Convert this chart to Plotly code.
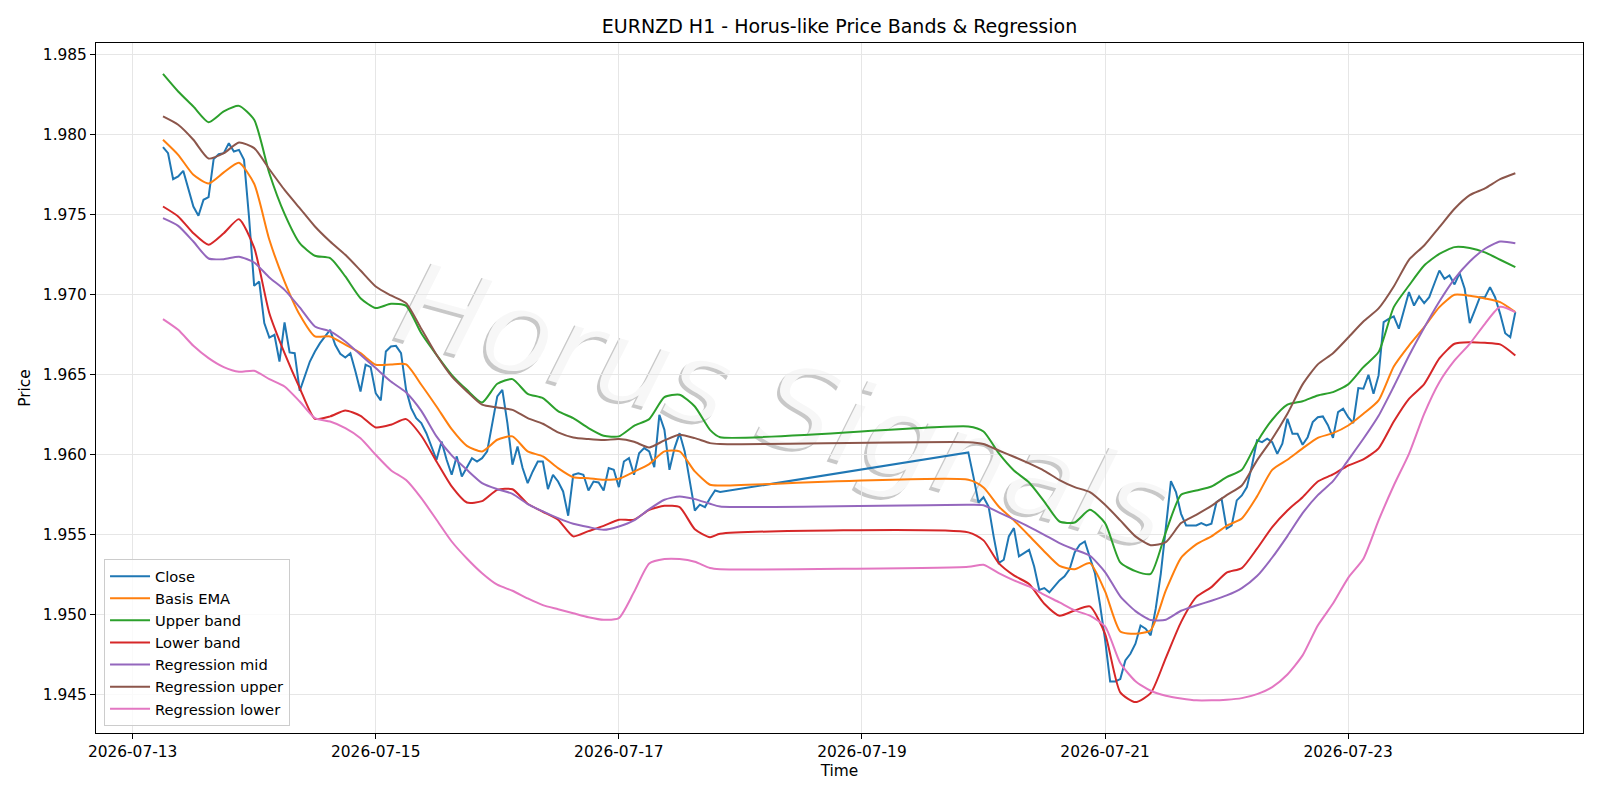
import pandas as pd
import plotly.graph_objects as go

# ---------------- data ----------------
base = pd.Timestamp("2026-07-13 00:00")
week1_hours = list(range(6, 117))       # Mon 06:00 .. Fri 20:00
week2_hours = list(range(165, 274))     # Sun 21:00 .. Fri 09:00
close_hours = week1_hours + week2_hours

close = [
    1.97923, 1.97885, 1.97723, 1.97740, 1.97775, 1.97667, 1.97552, 1.97494, 1.97594, 1.97610,
    1.97848, 1.97879, 1.97885, 1.97948, 1.97896, 1.97906, 1.97844, 1.97480, 1.97056, 1.97083,
    1.96823, 1.96733, 1.96750, 1.96583, 1.96827, 1.96640, 1.96635, 1.96400, 1.96490, 1.96583,
    1.96646, 1.96698, 1.96740, 1.96781, 1.96688, 1.96631, 1.96608, 1.96635, 1.96521, 1.96396,
    1.96563, 1.96548, 1.96385, 1.96340, 1.96646, 1.96677, 1.96681, 1.96635, 1.96406, 1.96292,
    1.96229, 1.96198, 1.96135, 1.96052, 1.95969, 1.96083, 1.95969, 1.95875, 1.95990, 1.95865,
    1.95927, 1.95979, 1.95958, 1.95979, 1.96021, 1.96198, 1.96365, 1.96406, 1.96198, 1.95938,
    1.96052, 1.95917, 1.95823, 1.95896, 1.95958, 1.95958, 1.95785, 1.95875, 1.95833, 1.95771,
    1.95619, 1.95875, 1.95885, 1.95875, 1.95777, 1.95833, 1.95827, 1.95777, 1.95917, 1.95906,
    1.95798, 1.95958, 1.95979, 1.95875, 1.96010, 1.96042, 1.96021, 1.95923, 1.96250, 1.96156,
    1.95906, 1.96042, 1.96135, 1.96021, 1.95844, 1.95652, 1.95688, 1.95673, 1.95729, 1.95777,
    1.95767,
    1.96015, 1.95865, 1.95702, 1.95735, 1.95677, 1.95490, 1.95323, 1.95344, 1.95490, 1.95542,
    1.95365, 1.95385, 1.95406, 1.95302, 1.95156, 1.95167, 1.95140, 1.95177, 1.95215, 1.95240,
    1.95285, 1.95390, 1.95438, 1.95458, 1.95365, 1.95260, 1.95063, 1.94844, 1.94583, 1.94583,
    1.94598, 1.94715, 1.94756, 1.94819, 1.94933, 1.94913, 1.94871, 1.95038, 1.95256, 1.95548,
    1.95835, 1.95767, 1.95631, 1.95558, 1.95558, 1.95558, 1.95573, 1.95558, 1.95569, 1.95704,
    1.95725, 1.95538, 1.95558, 1.95715, 1.95746, 1.95798, 1.95933, 1.96090, 1.96079, 1.96100,
    1.96079, 1.96006, 1.96069, 1.96225, 1.96131, 1.96131, 1.96063, 1.96110, 1.96204, 1.96235,
    1.96240, 1.96185, 1.96106, 1.96267, 1.96288, 1.96235, 1.96198, 1.96417, 1.96413, 1.96500,
    1.96381, 1.96496, 1.96829, 1.96850, 1.96865, 1.96788, 1.96902, 1.97017, 1.96933, 1.96990,
    1.96948, 1.96985, 1.97069, 1.97152, 1.97100, 1.97121, 1.97065, 1.97135, 1.97038, 1.96823,
    1.96902, 1.96985, 1.96985, 1.97048, 1.96985, 1.96881, 1.96760, 1.96735, 1.96892,
]

# smooth series sampled every 3 hours (plus the Friday close hour)
band_hours = list(range(6, 115, 3)) + [116] + list(range(165, 274, 3))

basis_ema = [
    1.97969, 1.97875, 1.97750, 1.97696, 1.97765, 1.97825, 1.97694, 1.97344, 1.97083, 1.96875,
    1.96740, 1.96740, 1.96688, 1.96635, 1.96563, 1.96565, 1.96565, 1.96438, 1.96302, 1.96160,
    1.96056, 1.96021, 1.96094, 1.96115, 1.96021, 1.95990, 1.95917, 1.95860, 1.95854, 1.95844,
    1.95850, 1.95894, 1.95942, 1.96021, 1.96021, 1.95896, 1.95813, 1.95808,
    1.95844, 1.95796, 1.95677, 1.95590, 1.95494, 1.95396, 1.95306, 1.95285, 1.95323, 1.95146,
    1.94896, 1.94881, 1.94904, 1.95152, 1.95356, 1.95440, 1.95490, 1.95556, 1.95602, 1.95740,
    1.95906, 1.95969, 1.96040, 1.96106, 1.96135, 1.96183, 1.96256, 1.96340, 1.96552, 1.96683,
    1.96798, 1.96923, 1.97000, 1.96994, 1.96977, 1.96954, 1.96892,
]
upper_band = [
    1.98381, 1.98271, 1.98177, 1.98079, 1.98146, 1.98181, 1.98094, 1.97760, 1.97506, 1.97323,
    1.97244, 1.97229, 1.97115, 1.96979, 1.96917, 1.96944, 1.96931, 1.96760, 1.96625, 1.96500,
    1.96406, 1.96327, 1.96444, 1.96473, 1.96381, 1.96354, 1.96273, 1.96229, 1.96167, 1.96119,
    1.96115, 1.96181, 1.96223, 1.96360, 1.96375, 1.96302, 1.96156, 1.96110,
    1.96177, 1.96146, 1.96010, 1.95902, 1.95827, 1.95708, 1.95583, 1.95577, 1.95656, 1.95573,
    1.95327, 1.95273, 1.95256, 1.95517, 1.95750, 1.95777, 1.95802, 1.95860, 1.95906, 1.96079,
    1.96219, 1.96313, 1.96335, 1.96371, 1.96392, 1.96440, 1.96548, 1.96642, 1.96923, 1.97058,
    1.97183, 1.97256, 1.97298, 1.97292, 1.97265, 1.97219, 1.97173,
]
lower_band = [
    1.97552, 1.97490, 1.97385, 1.97313, 1.97385, 1.97473, 1.97295, 1.96885, 1.96635, 1.96417,
    1.96225, 1.96240, 1.96277, 1.96244, 1.96171, 1.96188, 1.96223, 1.96119, 1.95958, 1.95802,
    1.95702, 1.95710, 1.95781, 1.95785, 1.95694, 1.95644, 1.95594, 1.95490, 1.95523, 1.95556,
    1.95594, 1.95594, 1.95656, 1.95681, 1.95673, 1.95535, 1.95485, 1.95506,
    1.95515, 1.95465, 1.95323, 1.95246, 1.95192, 1.95069, 1.94994, 1.95027, 1.95052, 1.94881,
    1.94515, 1.94454, 1.94510, 1.94731, 1.94954, 1.95110, 1.95173, 1.95263, 1.95292, 1.95413,
    1.95548, 1.95652, 1.95735, 1.95833, 1.95877, 1.95933, 1.95971, 1.96040, 1.96208, 1.96350,
    1.96442, 1.96602, 1.96694, 1.96704, 1.96700, 1.96690, 1.96621,
]
reg_mid = [
    1.97479, 1.97431, 1.97333, 1.97227, 1.97223, 1.97238, 1.97202, 1.97108, 1.97031, 1.96921,
    1.96802, 1.96771, 1.96708, 1.96625, 1.96542, 1.96458, 1.96390, 1.96275, 1.96115, 1.95996,
    1.95906, 1.95823, 1.95785, 1.95756, 1.95692, 1.95646, 1.95604, 1.95569, 1.95548, 1.95531,
    1.95552, 1.95590, 1.95660, 1.95719, 1.95740, 1.95723, 1.95694, 1.95677,
    1.95688, 1.95685, 1.95640, 1.95596, 1.95550, 1.95500, 1.95448, 1.95408, 1.95369, 1.95267,
    1.95115, 1.95023, 1.94967, 1.94969, 1.95025, 1.95058, 1.95088, 1.95121, 1.95167, 1.95242,
    1.95358, 1.95492, 1.95635, 1.95748, 1.95835, 1.95967, 1.96100, 1.96244, 1.96427, 1.96619,
    1.96794, 1.96958, 1.97100, 1.97208, 1.97288, 1.97333, 1.97323,
]
reg_upper = [
    1.98115, 1.98063, 1.97969, 1.97852, 1.97885, 1.97952, 1.97917, 1.97785, 1.97656, 1.97542,
    1.97427, 1.97333, 1.97250, 1.97152, 1.97052, 1.96996, 1.96948, 1.96788, 1.96625, 1.96490,
    1.96396, 1.96313, 1.96296, 1.96281, 1.96229, 1.96194, 1.96140, 1.96108, 1.96098, 1.96092,
    1.96098, 1.96081, 1.96046, 1.96090, 1.96125, 1.96104, 1.96073, 1.96067,
    1.96079, 1.96067, 1.96027, 1.95988, 1.95946, 1.95900, 1.95842, 1.95798, 1.95767, 1.95688,
    1.95590, 1.95490, 1.95435, 1.95454, 1.95573, 1.95625, 1.95681, 1.95748, 1.95808, 1.95965,
    1.96100, 1.96256, 1.96440, 1.96565, 1.96635, 1.96733, 1.96833, 1.96915, 1.97052, 1.97219,
    1.97308, 1.97423, 1.97538, 1.97623, 1.97665, 1.97723, 1.97760,
]
reg_lower = [
    1.96848, 1.96781, 1.96681, 1.96604, 1.96548, 1.96519, 1.96525, 1.96473, 1.96427, 1.96333,
    1.96229, 1.96208, 1.96167, 1.96104, 1.96000, 1.95904, 1.95842, 1.95729, 1.95594, 1.95458,
    1.95352, 1.95260, 1.95188, 1.95150, 1.95102, 1.95060, 1.95035, 1.95010, 1.94985, 1.94969,
    1.94979, 1.95142, 1.95320, 1.95348, 1.95348, 1.95331, 1.95292, 1.95285,
    1.95300, 1.95313, 1.95260, 1.95215, 1.95177, 1.95125, 1.95077, 1.95027, 1.94994, 1.94927,
    1.94698, 1.94585, 1.94525, 1.94494, 1.94477, 1.94465, 1.94465, 1.94469, 1.94479, 1.94504,
    1.94548, 1.94627, 1.94746, 1.94933, 1.95070, 1.95231, 1.95350, 1.95590, 1.95808, 1.96006,
    1.96256, 1.96454, 1.96590, 1.96694, 1.96819, 1.96925, 1.96892,
]

x_tick_labels = ["2026-07-13", "2026-07-15", "2026-07-17", "2026-07-19", "2026-07-21", "2026-07-23"]
y_tick_values = [1.945, 1.950, 1.955, 1.960, 1.965, 1.970, 1.975, 1.980, 1.985]

close_time = [base + pd.Timedelta(hours=h) for h in close_hours]
band_time = [base + pd.Timedelta(hours=h) for h in band_hours]

series = [
    ("Close", close_time, close, "#1f77b4", "linear"),
    ("Basis EMA", band_time, basis_ema, "#ff7f0e", "spline"),
    ("Upper band", band_time, upper_band, "#2ca02c", "spline"),
    ("Lower band", band_time, lower_band, "#d62728", "spline"),
    ("Regression mid", band_time, reg_mid, "#9467bd", "spline"),
    ("Regression upper", band_time, reg_upper, "#8c564b", "spline"),
    ("Regression lower", band_time, reg_lower, "#e377c2", "spline"),
]

fig = go.Figure()
for name, xs, ys, col, shp in series:
    ln = dict(color=col, width=2, shape=shp)
    if shp == "spline":
        ln["smoothing"] = 0.6
    fig.add_trace(go.Scatter(x=xs, y=ys, mode="lines", name=name, line=ln))

FONT = "DejaVu Sans"
FS = 15.4

# watermark (shadow + light text), drawn under the traces
wm_cx, wm_cy = 0.4647, 0.4880
for dx, dy, colr in [(-0.0020, -0.0045, "rgba(110,110,110,0.38)"),
                     (0.0, 0.0, "rgba(255,255,255,0.85)")]:
    fig.add_shape(type="rect", xref="paper", yref="paper",
                  x0=wm_cx + dx - 0.05, x1=wm_cx + dx + 0.05,
                  y0=wm_cy + dy - 0.05, y1=wm_cy + dy + 0.05,
                  line=dict(width=0), fillcolor="rgba(0,0,0,0)", layer="below",
                  label=dict(text="Horus Signals", textangle=15.5,
                             textposition="middle center",
                             font=dict(family=FONT, size=116, color=colr, style="italic")))

fig.update_layout(
    width=1600, height=800,
    margin=dict(l=96, r=17, t=43, b=67),
    paper_bgcolor="white", plot_bgcolor="white",
    font=dict(family=FONT, size=FS, color="black"),
    title=dict(text="EURNZD H1 - Horus-like Price Bands & Regression",
               x=0.5, xref="paper", xanchor="center",
               y=1 - 26 / 800, yref="container", yanchor="middle",
               font=dict(family=FONT, size=19, color="black")),
    showlegend=True,
    legend=dict(x=0.0054, y=0.010, xanchor="left", yanchor="bottom",
                bgcolor="rgba(255,255,255,0.8)", bordercolor="#cccccc", borderwidth=1,
                itemwidth=40,
                font=dict(family=FONT, size=14.7, color="black")),
)

fig.update_xaxes(
    type="date",
    range=[base + pd.Timedelta(hours=-7.226), base + pd.Timedelta(hours=286.36)],
    tickvals=[pd.Timestamp(t) for t in x_tick_labels], ticktext=x_tick_labels,
    ticks="outside", ticklen=5, tickcolor="black", tickwidth=1,
    tickfont=dict(family=FONT, size=FS),
    showgrid=True, gridcolor="#e6e6e6", gridwidth=1,
    showline=True, linecolor="black", linewidth=1, mirror=True,
    zeroline=False,
    title=dict(text="Time", font=dict(family=FONT, size=FS), standoff=4),
)
fig.update_yaxes(
    range=[1.94261, 1.98574],
    tickvals=y_tick_values, ticktext=[f"{v:.3f}" for v in y_tick_values],
    ticks="outside", ticklen=5, tickcolor="black", tickwidth=1,
    tickfont=dict(family=FONT, size=FS),
    showgrid=True, gridcolor="#e6e6e6", gridwidth=1,
    showline=True, linecolor="black", linewidth=1, mirror=True,
    zeroline=False,
    title=dict(text="Price", font=dict(family=FONT, size=FS), standoff=8),
)

fig.write_html("out.html")
